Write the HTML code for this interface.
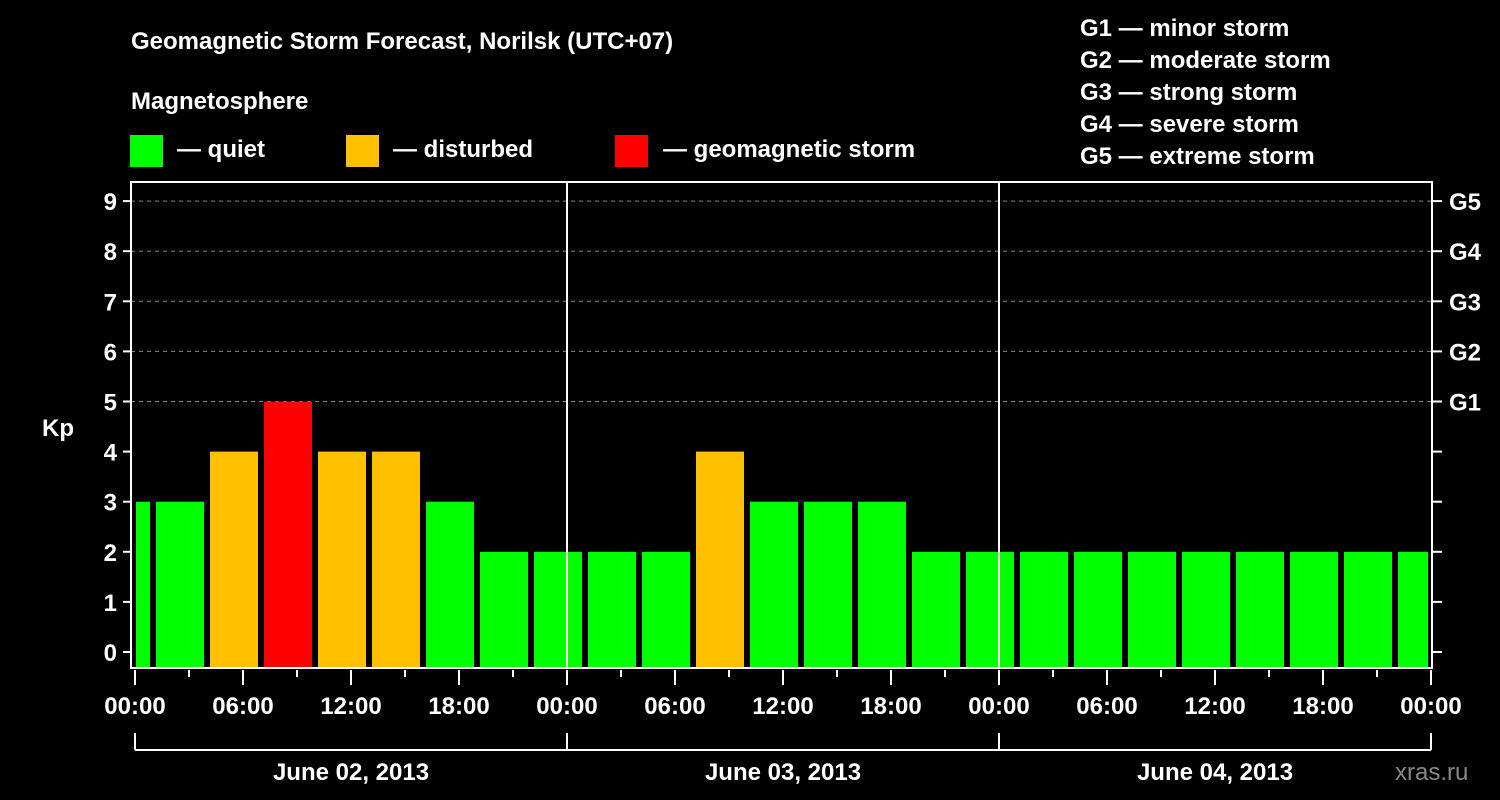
<!DOCTYPE html>
<html><head><meta charset="utf-8"><style>
html,body{margin:0;padding:0;background:#000;}
svg{display:block;font-family:"Liberation Sans",Arial,sans-serif;font-weight:bold;}
</style></head><body>
<svg id="chart" width="1500" height="800" viewBox="0 0 1500 800" xmlns="http://www.w3.org/2000/svg">
<rect width="1500" height="800" fill="#000"/>
<text x="131" y="49" fill="#fff" font-size="24">Geomagnetic Storm Forecast, Norilsk (UTC+07)</text>
<text x="131" y="109" fill="#fff" font-size="24">Magnetosphere</text>
<g><rect x="130" y="135" width="33" height="32" fill="#00ff00"/><text x="177" y="157" fill="#fff" font-size="24">— quiet</text></g>
<g><rect x="346" y="135" width="33" height="32" fill="#ffc000"/><text x="393" y="157" fill="#fff" font-size="24">— disturbed</text></g>
<g><rect x="615" y="135" width="33" height="32" fill="#ff0000"/><text x="663" y="157" fill="#fff" font-size="24">— geomagnetic storm</text></g>
<g fill="#fff" font-size="24">
<text x="1080" y="36">G1 — minor storm</text>
<text x="1080" y="68">G2 — moderate storm</text>
<text x="1080" y="100">G3 — strong storm</text>
<text x="1080" y="132">G4 — severe storm</text>
<text x="1080" y="164">G5 — extreme storm</text>
</g>
<text x="42" y="436" fill="#fff" font-size="24">Kp</text>
<text x="1395" y="780" fill="#888" font-size="24" font-weight="normal">xras.ru</text>
<g id="grid"></g><g id="bars"></g><g id="axes"></g>
</svg>
<script>
const kpValues = [3, 3, 4, 5, 4, 4, 3, 2, 2, 2, 2, 4, 3, 3, 3, 2, 2, 2, 2, 2, 2, 2, 2, 2, 2];
const yTicks = [0,1,2,3,4,5,6,7,8,9];
const gLabels = ["G1","G2","G3","G4","G5"];
const xTickLabels = ["00:00","06:00","12:00","18:00","00:00","06:00","12:00","18:00","00:00","06:00","12:00","18:00","00:00"];
const dayLabels = ["June 02, 2013","June 03, 2013","June 04, 2013"];

const NS="http://www.w3.org/2000/svg";
const L=131,R=1432,T=182,B=668,X0=135,PXH=18;
const y=v=>652-v*50.1;
const x=h=>X0+h*PXH;
function mk(tag,at,parent,txt){const e=document.createElementNS(NS,tag);for(const k in at)e.setAttribute(k,at[k]);if(txt!==undefined)e.textContent=txt;parent.appendChild(e);return e;}
const grid=document.getElementById('grid'),bars=document.getElementById('bars'),axes=document.getElementById('axes');
yTicks.forEach(v=>{if(v>=5){const l=mk('line',{x1:L,x2:R,y1:y(v),y2:y(v),stroke:'#888','stroke-dasharray':'4,4','stroke-width':1},grid);

}});
function col(v){return v>=5?'#ff0000':(v>=4?'#ffc000':'#00ff00');}
kpValues.forEach((v,i)=>{
 let s=-2+3*i, e=s+3;
 let x1=Math.max(x(s)+3,X0+1), x2=Math.min(x(e)-3,R-4);
 const r=mk('rect',{x:x1,y:y(v),width:x2-x1,height:B-y(v),fill:col(v)},bars);
 
 
});
const frame=mk('rect',{x:L,y:T,width:R-L,height:B-T,fill:'none',stroke:'#fff','stroke-width':2},axes);


[24,48].forEach(h=>{const d=mk('line',{x1:x(h),x2:x(h),y1:T,y2:B,stroke:'#fff','stroke-width':2},axes);

});
yTicks.forEach(v=>{
 mk('line',{x1:123,x2:L,y1:y(v),y2:y(v),stroke:'#fff','stroke-width':2},axes);
 mk('line',{x1:R,x2:1442,y1:y(v),y2:y(v),stroke:'#fff','stroke-width':2},axes);
 const t=mk('text',{x:117,y:y(v)+9,fill:'#fff','font-size':24,'text-anchor':'end'},axes,String(v));
 
 
});
gLabels.forEach((g,i)=>{const t=mk('text',{x:1449,y:y(5+i)+9,fill:'#fff','font-size':24},axes,g);

});
for(let h=0;h<=72;h+=3){const long=h%6===0;mk('line',{x1:x(h),x2:x(h),y1:670,y2:long?685:677,stroke:'#fff','stroke-width':2},axes);}
xTickLabels.forEach((lb,i)=>{const t=mk('text',{x:x(i*6),y:714,fill:'#fff','font-size':24,'text-anchor':'middle'},axes,lb);

});
mk('line',{x1:x(0),x2:x(72),y1:750,y2:750,stroke:'#fff','stroke-width':2},axes);
[0,24,48,72].forEach(h=>mk('line',{x1:x(h),x2:x(h),y1:733,y2:750,stroke:'#fff','stroke-width':2},axes));
dayLabels.forEach((d,i)=>{const t=mk('text',{x:x(i*24+12),y:780,fill:'#fff','font-size':24,'text-anchor':'middle'},axes,d);

});
</script>
</body></html>
